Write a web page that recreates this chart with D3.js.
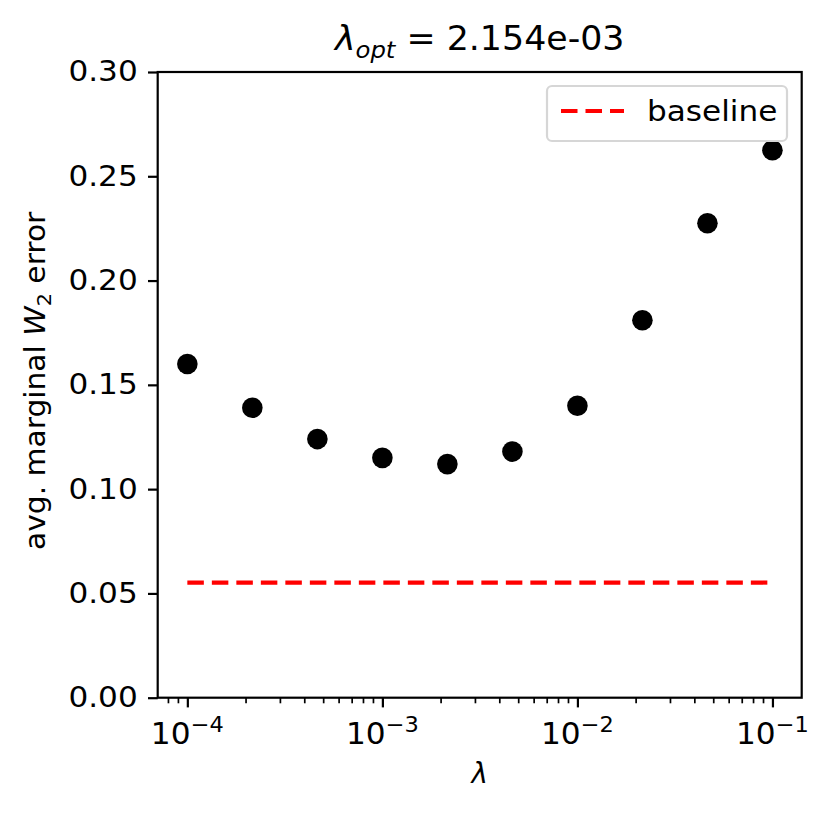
<!DOCTYPE html>
<html>
<head>
<meta charset="utf-8">
<script src="https://cdn.jsdelivr.net/npm/d3@7"></script>
<style>
  html, body { margin: 0; padding: 0; background: #fff; }
  svg { display: block; font-family: "DejaVu Sans", sans-serif; }
</style>
</head>
<body>
<svg id="chart" width="832" height="818"></svg>
<script>
// ---- data ----
const lambdas = [1e-4, 2.154e-4, 4.642e-4, 1e-3, 2.154e-3, 4.642e-3, 1e-2, 2.154e-2, 4.642e-2, 1e-1];
const errors  = [0.160, 0.139, 0.124, 0.115, 0.112, 0.118, 0.140, 0.181, 0.2275, 0.2625];
const baselineValue = 0.0552;
const yTicks = [0, 0.05, 0.10, 0.15, 0.20, 0.25, 0.30];
const xMajorExps = [-4, -3, -2, -1];
const titleValue = "2.154e-03";
const legendLabel = "baseline";

// ---- layout ----
const svg = d3.select("#chart");
const L = 157.7, R = 801.7, T = 72, B = 697.7;
const FS = 27.8;
const SX = 1.12; // horizontal widening of text to match reference glyph widths

const x = d3.scaleLog().domain([Math.pow(10, -4.152), Math.pow(10, -0.850)]).range([L, R]);
const y = d3.scaleLinear().domain([0, 0.30]).range([B, T]);

// baseline dashed line
svg.append("line")
  .attr("x1", x(d3.min(lambdas))).attr("x2", x(d3.max(lambdas)))
  .attr("y1", y(baselineValue)).attr("y2", y(baselineValue))
  .attr("stroke", "#ff0000").attr("stroke-width", 4.2)
  .attr("stroke-dasharray", "16.5,8");

// points
svg.append("g").selectAll("circle")
  .data(lambdas.map((l, i) => ({l, e: errors[i]})))
  .join("circle")
  .attr("cx", d => x(d.l)).attr("cy", d => y(d.e))
  .attr("r", 10.3).attr("fill", "#000");

// frame
svg.append("rect")
  .attr("x", L).attr("y", T).attr("width", R - L).attr("height", B - T)
  .attr("fill", "none").attr("stroke", "#000").attr("stroke-width", 2.2);

// y axis
const yAxis = d3.axisLeft(y).tickValues(yTicks).tickFormat(d3.format(".2f"))
  .tickSize(9.7).tickPadding(9);
const gy = svg.append("g").attr("transform", `translate(${L},0)`).call(yAxis);
gy.select(".domain").remove();
gy.selectAll(".tick line").attr("stroke", "#000").attr("stroke-width", 2.2);
gy.selectAll(".tick text")
  .attr("x", 0)
  .attr("transform", `translate(-20,0) scale(${SX},1)`)
  .attr("font-size", FS).attr("font-family", "DejaVu Sans").attr("fill", "#000");

// x axis: minor ticks
const [d0, d1] = x.domain();
const minors = [];
for (let e = -5; e <= 0; e++) {
  for (let m = 2; m <= 9; m++) {
    const v = m * Math.pow(10, e);
    if (v >= d0 && v <= d1) minors.push(v);
  }
}
svg.append("g").selectAll("line").data(minors).join("line")
  .attr("x1", d => x(d)).attr("x2", d => x(d))
  .attr("y1", B).attr("y2", B + 5.6)
  .attr("stroke", "#000").attr("stroke-width", 1.7);

// x axis major ticks
const majors = xMajorExps.map(e => Math.pow(10, e));
const xAxis = d3.axisBottom(x).tickValues(majors).tickFormat("").tickSize(9.7);
const gx = svg.append("g").attr("transform", `translate(0,${B})`).call(xAxis);
gx.select(".domain").remove();
gx.selectAll(".tick line").attr("stroke", "#000").attr("stroke-width", 2.2);

// x tick labels: 10^{e}
const XFS = 29.5;
const xl = svg.append("g").selectAll("text").data(xMajorExps).join("text")
  .attr("transform", e => `translate(${x(Math.pow(10, e))},744) scale(1.06,1)`)
  .attr("text-anchor", "middle")
  .attr("font-size", XFS).attr("fill", "#000");
xl.append("tspan").text("10");
xl.append("tspan").attr("font-size", XFS * 0.72).attr("dy", -12).text(e => "\u2212" + Math.abs(e));

// x label
svg.append("text")
  .attr("x", (L + R) / 2).attr("y", 783)
  .attr("text-anchor", "middle").attr("font-size", FS)
  .attr("font-style", "italic").text("\u03bb");

// y label
const ylab = svg.append("text")
  .attr("transform", `translate(45,${(T + B) / 2 - 4}) rotate(-90) scale(1.07,1)`)
  .attr("text-anchor", "middle").attr("font-size", FS).attr("fill", "#000");
ylab.append("tspan").text("avg. marginal ");
ylab.append("tspan").attr("font-style", "italic").text("W");
ylab.append("tspan").attr("font-size", FS * 0.7).attr("dy", 6).text("2");
ylab.append("tspan").attr("dy", -6).text(" error");

// title
const TFS = 33.3;
const title = svg.append("text")
  .attr("transform", `translate(${(L + R) / 2},50) scale(1.045,1)`)
  .attr("text-anchor", "middle").attr("font-size", TFS).attr("fill", "#000");
title.append("tspan").attr("font-style", "italic").text("\u03bb");
title.append("tspan").attr("font-style", "italic").attr("font-size", TFS * 0.7).attr("dy", 8).text("opt");
title.append("tspan").attr("dy", -8).text(" = " + titleValue);

// legend
const lg = svg.append("g");
lg.append("rect")
  .attr("x", 547).attr("y", 86).attr("width", 240).attr("height", 55)
  .attr("rx", 5).attr("ry", 5)
  .attr("fill", "rgba(255,255,255,0.8)").attr("stroke", "#d6d6d6").attr("stroke-width", 2.2);
lg.append("line")
  .attr("x1", 561).attr("x2", 624).attr("y1", 111).attr("y2", 111)
  .attr("stroke", "#ff0000").attr("stroke-width", 4.2).attr("stroke-dasharray", "16.5,8");
lg.append("text")
  .attr("transform", `translate(647,121) scale(${SX},1)`)
  .attr("font-size", FS).attr("fill", "#000").text(legendLabel);
</script>
</body>
</html>
